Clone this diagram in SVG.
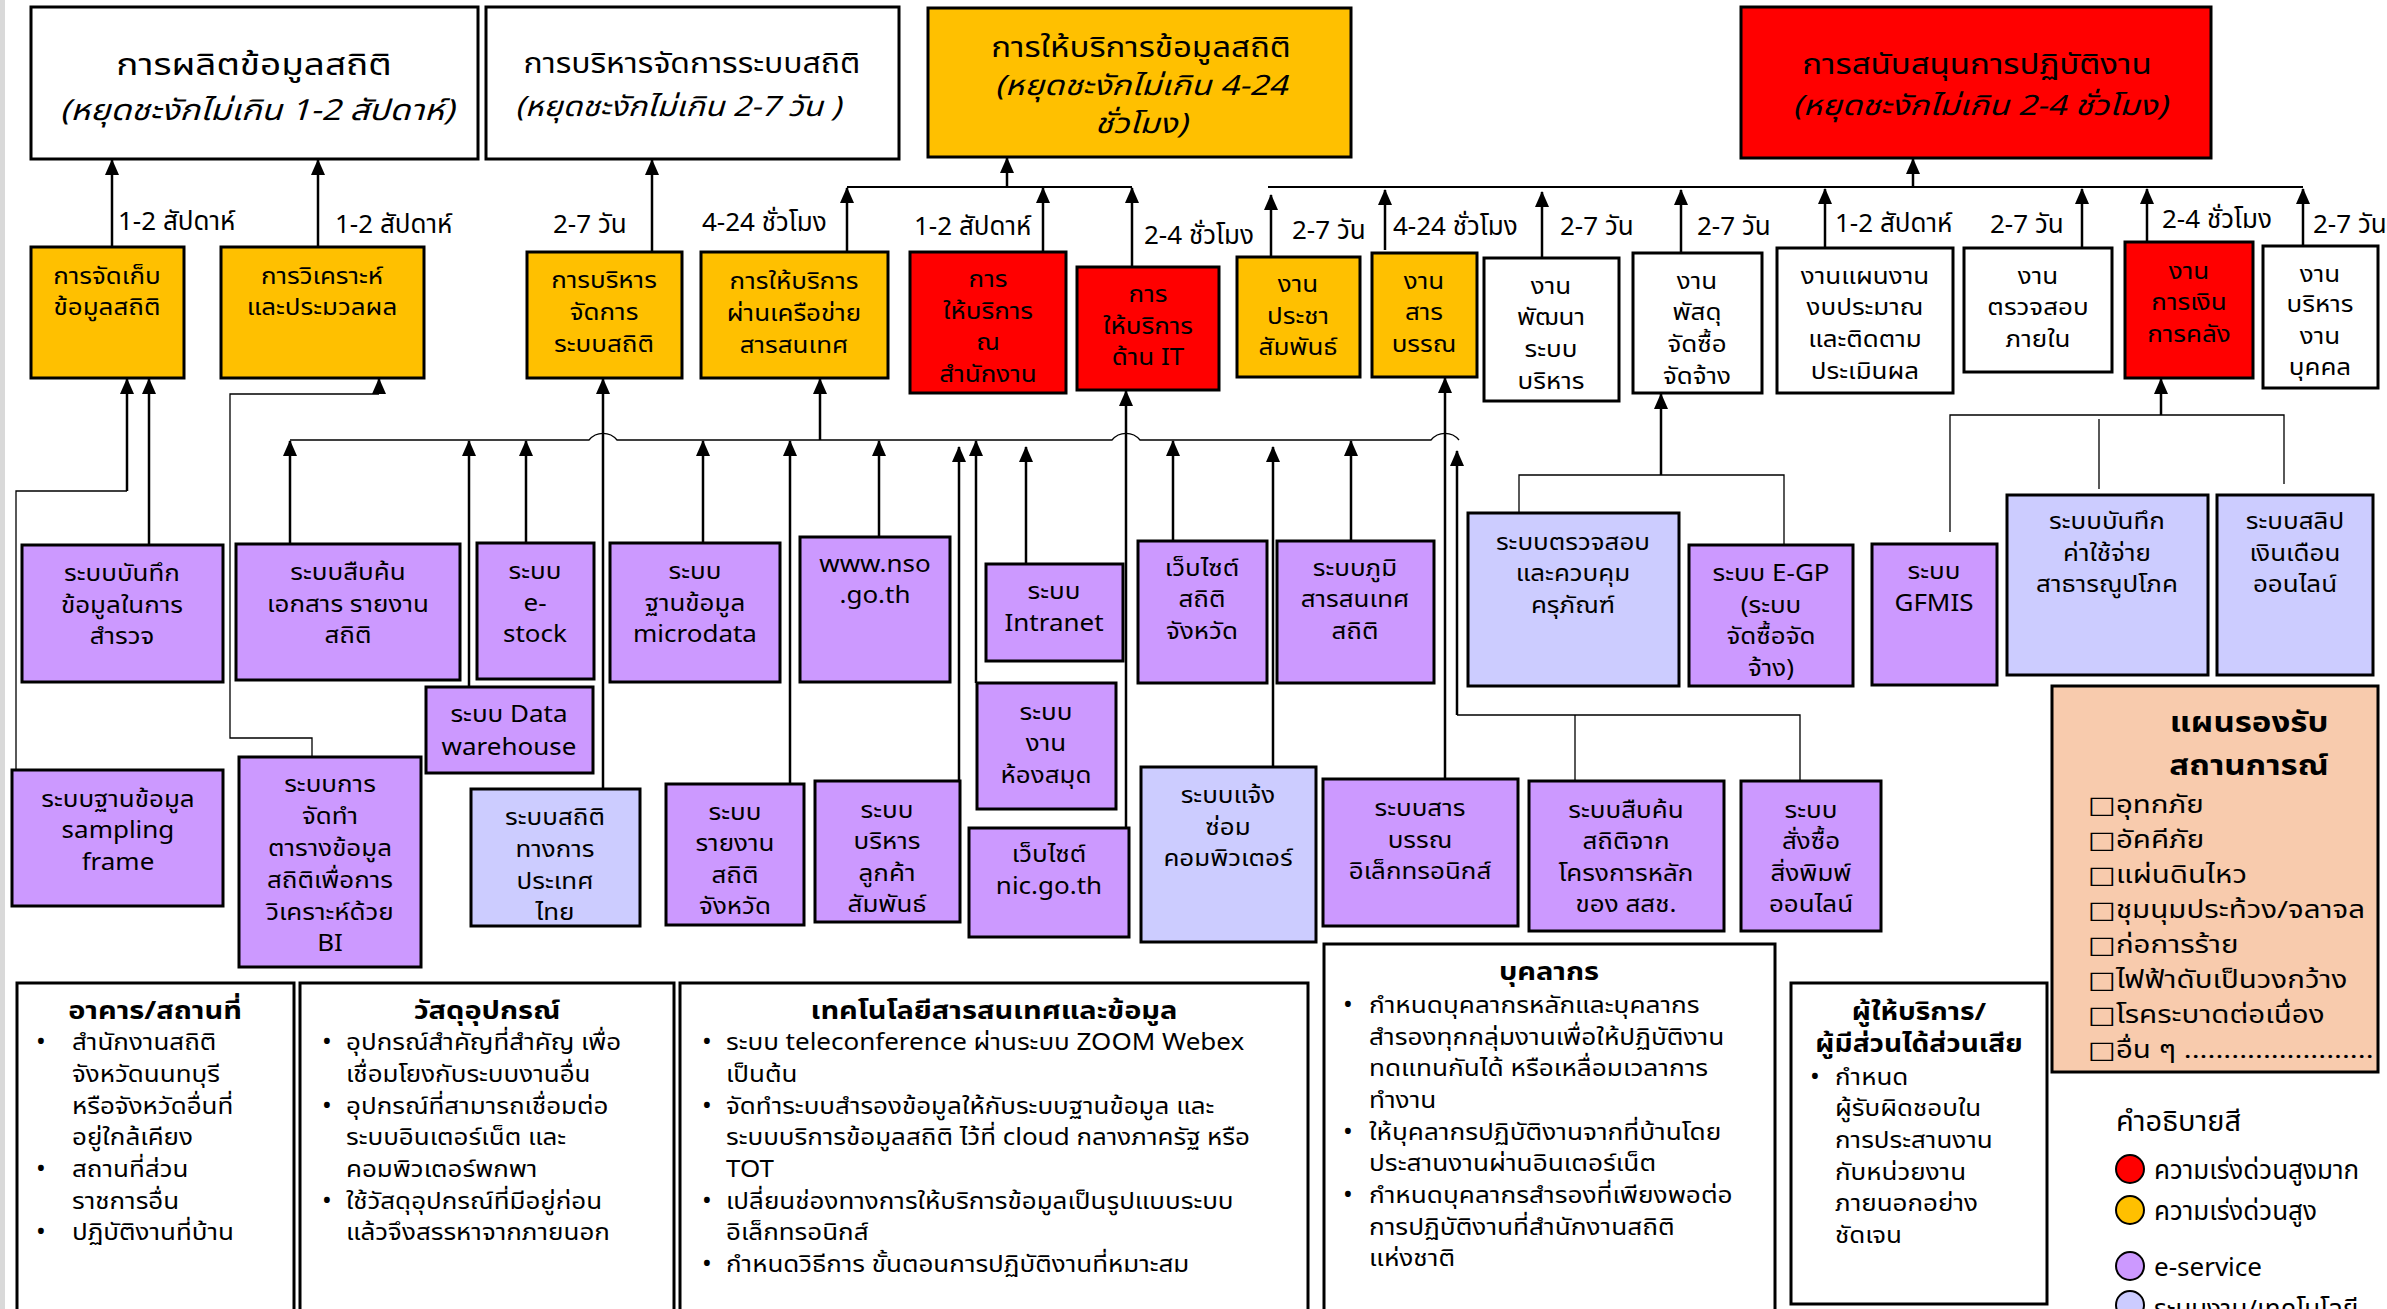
<svg xmlns="http://www.w3.org/2000/svg" width="2387" height="1309" viewBox="0 0 2387 1309">
<defs>
<marker id="ah" markerUnits="userSpaceOnUse" markerWidth="16" markerHeight="16" viewBox="0 0 16 16" refX="15" refY="8" orient="auto"><path d="M0,1 L16,8 L0,15 z" fill="#000"/></marker>
<style>
text{font-family:Tahoma,"Noto Sans Thai","Noto Sans","DejaVu Sans",sans-serif;fill:#000}
.bx{stroke:#000;stroke-width:3}
.o{fill:#FFC000}.r{fill:#FF0000}.p{fill:#CC99FF}.lb{fill:#CCCCFF}.w{fill:#fff}.pe{fill:#F8CBAD}
.t{font-size:23px;text-anchor:middle}
.l{font-size:26px}
.h{text-anchor:middle}
.it{font-style:italic}
.bd{font-weight:bold}
.c{stroke:#000;stroke-width:2;fill:none}
.ca{stroke:#000;stroke-width:2.5;fill:none;marker-end:url(#ah)}
.ct{stroke:#000;stroke-width:1.3;fill:none}
.bt{font-size:23px}
.bu{font-size:26px}
.lc{stroke:#000;stroke-width:2}
</style>
</defs>
<rect x="0" y="0" width="2387" height="1309" fill="#fff"/>
<rect x="0" y="0" width="5" height="1309" fill="#d9d9d9"/>

<g id="connectors">
<path class="ca" d="M112,247 V160"/>
<path class="ca" d="M318,247 V160"/>
<path class="ca" d="M652,252 V160"/>
<path class="ct" d="M16,770 V491 H127"/>
<path class="ca" d="M127,491 V379"/>
<path class="ca" d="M149,545 V379"/>
<path class="ct" d="M312,757 V738 H230 V394 H379"/>
<path class="ca" d="M379,394 V379"/>
<path class="ca" d="M603,789 V379"/>
<path class="c" d="M847,187 H1132"/>
<path class="ca" d="M847,252 V188"/>
<path class="ca" d="M1043,252 V188"/>
<path class="ca" d="M1132,267 V188"/>
<path class="ca" d="M1007,187 V158"/>
<path class="ct" d="M290,440 H589 A18,18 0 0 1 617,440 H1112 A18,18 0 0 1 1140,440 H1431 A18,18 0 0 1 1459,440"/>
<path class="ca" d="M820,440 V379"/>
<path class="ca" d="M290,544 V441"/>
<path class="ca" d="M469,687 V441"/>
<path class="ca" d="M526,543 V441"/>
<path class="ca" d="M703,543 V441"/>
<path class="ca" d="M790,784 V441"/>
<path class="ca" d="M879,537 V441"/>
<path class="ca" d="M959,781 V447"/>
<path class="ca" d="M976,683 V441"/>
<path class="ca" d="M1026,564 V447"/>
<path class="ca" d="M1173,541 V441"/>
<path class="ca" d="M1273,767 V447"/>
<path class="ca" d="M1351,541 V441"/>
<path class="ca" d="M1457,715 V451"/>
<path class="ca" d="M1126,828 V391"/>
<path class="ca" d="M1445,779 V378"/>
<path class="ct" d="M1457,715 H1800 V781 M1575,715 V781"/>
<path class="ct" d="M1519,513 V475 H1784 V545"/>
<path class="ca" d="M1661,475 V394"/>
<path class="ct" d="M1950,532 V415 H2284 V484 M2099,419 V489"/>
<path class="ca" d="M2161,415 V379"/>
<path class="c" d="M1268,187 H2303"/>
<path class="ca" d="M1913,187 V159"/>
<path class="ca" d="M1271,257 V195"/>
<path class="ca" d="M1385,250 V190"/>
<path class="ca" d="M1542,258 V192"/>
<path class="ca" d="M1681,253 V190"/>
<path class="ca" d="M1825,248 V189"/>
<path class="ca" d="M2082,248 V189"/>
<path class="ca" d="M2147,243 V189"/>
<path class="ca" d="M2303,246 V189"/>
</g>

<g id="labels" class="l">
<text x="118" y="230">1-2 สัปดาห์</text>
<text x="335" y="233">1-2 สัปดาห์</text>
<text x="553" y="233">2-7 วัน</text>
<text x="702" y="231">4-24 ชั่วโมง</text>
<text x="914" y="235">1-2 สัปดาห์</text>
<text x="1144" y="244">2-4 ชั่วโมง</text>
<text x="1292" y="239">2-7 วัน</text>
<text x="1393" y="235">4-24 ชั่วโมง</text>
<text x="1560" y="235">2-7 วัน</text>
<text x="1697" y="235">2-7 วัน</text>
<text x="1835" y="232">1-2 สัปดาห์</text>
<text x="1990" y="233">2-7 วัน</text>
<text x="2162" y="228">2-4 ชั่วโมง</text>
<text x="2313" y="233">2-7 วัน</text>
</g>

<g id="n-produce"><rect class="bx w" x="31" y="7" width="447" height="152"/>
<text class="h" x="254" y="75" font-size="31" transform="translate(254 0) scale(1.19 1) translate(-254 0)">การผลิตข้อมูลสถิติ</text>
<text class="h it" x="257" y="120" font-size="29" transform="translate(257 0) scale(1.17 1) translate(-257 0)">(หยุดชะงักไม่เกิน 1-2 สัปดาห์)</text></g>
<g id="n-manage"><rect class="bx w" x="486" y="7" width="413" height="152"/>
<text class="h" x="692" y="73" font-size="28" transform="translate(692 0) scale(1.14 1) translate(-692 0)">การบริหารจัดการระบบสถิติ</text>
<text class="h it" x="678" y="116" font-size="28" transform="translate(678 0) scale(1.14 1) translate(-678 0)">(หยุดชะงักไม่เกิน 2-7 วัน )</text></g>
<g id="n-service"><rect class="bx o" x="928" y="8" width="423" height="149"/>
<g transform="translate(1141 0) scale(1.18 1) translate(-1141 0)">
<text class="h" x="1141" y="57" font-size="28">การให้บริการข้อมูลสถิติ</text>
<text class="h it" font-size="28"><tspan x="1141" y="95">(หยุดชะงักไม่เกิน 4-24</tspan><tspan x="1141" y="133">ชั่วโมง)</tspan></text></g></g>
<g id="n-support"><rect class="bx r" x="1741" y="7" width="470" height="151"/>
<text class="h" x="1977" y="74" font-size="28" transform="translate(1977 0) scale(1.18 1) translate(-1977 0)">การสนับสนุนการปฏิบัติงาน</text>
<text class="h it" x="1980" y="115" font-size="28" transform="translate(1980 0) scale(1.18 1) translate(-1980 0)">(หยุดชะงักไม่เกิน 2-4 ชั่วโมง)</text></g>

<g id="n-collect"><rect class="bx o" x="31" y="247" width="153" height="131"/>
<text class="t" transform="translate(107 0) scale(1.13 1) translate(-107 0)"><tspan x="107" y="284">การจัดเก็บ</tspan><tspan x="107" y="315">ข้อมูลสถิติ</tspan></text></g>
<g id="n-analyze"><rect class="bx o" x="221" y="247" width="203" height="131"/>
<text class="t" transform="translate(322 0) scale(1.13 1) translate(-322 0)"><tspan x="322" y="284">การวิเคราะห์</tspan><tspan x="322" y="315">และประมวลผล</tspan></text></g>
<g id="n-sysmgmt"><rect class="bx o" x="527" y="252" width="155" height="126"/>
<text class="t" transform="translate(604 0) scale(1.13 1) translate(-604 0)"><tspan x="604" y="288">การบริหาร</tspan><tspan x="604" y="320">จัดการ</tspan><tspan x="604" y="352">ระบบสถิติ</tspan></text></g>
<g id="n-network"><rect class="bx o" x="701" y="252" width="187" height="126"/>
<text class="t" transform="translate(794 0) scale(1.13 1) translate(-794 0)"><tspan x="794" y="289">การให้บริการ</tspan><tspan x="794" y="321">ผ่านเครือข่าย</tspan><tspan x="794" y="353">สารสนเทศ</tspan></text></g>
<g id="n-office"><rect class="bx r" x="910" y="252" width="156" height="141"/>
<text class="t" transform="translate(988 0) scale(1.13 1) translate(-988 0)"><tspan x="988" y="287">การ</tspan><tspan x="988" y="319">ให้บริการ</tspan><tspan x="988" y="350">ณ</tspan><tspan x="988" y="382">สำนักงาน</tspan></text></g>
<g id="n-it"><rect class="bx r" x="1077" y="267" width="142" height="123"/>
<text class="t" transform="translate(1148 0) scale(1.13 1) translate(-1148 0)"><tspan x="1148" y="302">การ</tspan><tspan x="1148" y="334">ให้บริการ</tspan><tspan x="1148" y="365">ด้าน IT</tspan></text></g>
<g id="n-pr"><rect class="bx o" x="1237" y="257" width="123" height="120"/>
<text class="t" transform="translate(1298 0) scale(1.13 1) translate(-1298 0)"><tspan x="1298" y="292">งาน</tspan><tspan x="1298" y="324">ประชา</tspan><tspan x="1298" y="355">สัมพันธ์</tspan></text></g>
<g id="n-saraban"><rect class="bx o" x="1372" y="253" width="105" height="124"/>
<text class="t" transform="translate(1424 0) scale(1.13 1) translate(-1424 0)"><tspan x="1424" y="289">งาน</tspan><tspan x="1424" y="320">สาร</tspan><tspan x="1424" y="352">บรรณ</tspan></text></g>
<g id="n-dev"><rect class="bx w" x="1484" y="258" width="135" height="143"/>
<text class="t" transform="translate(1551 0) scale(1.13 1) translate(-1551 0)"><tspan x="1551" y="294">งาน</tspan><tspan x="1551" y="325">พัฒนา</tspan><tspan x="1551" y="357">ระบบ</tspan><tspan x="1551" y="389">บริหาร</tspan></text></g>
<g id="n-supply"><rect class="bx w" x="1633" y="253" width="129" height="140"/>
<text class="t" transform="translate(1697 0) scale(1.13 1) translate(-1697 0)"><tspan x="1697" y="289">งาน</tspan><tspan x="1697" y="320">พัสดุ</tspan><tspan x="1697" y="352">จัดซื้อ</tspan><tspan x="1697" y="384">จัดจ้าง</tspan></text></g>
<g id="n-plan"><rect class="bx w" x="1777" y="248" width="176" height="145"/>
<text class="t" transform="translate(1865 0) scale(1.13 1) translate(-1865 0)"><tspan x="1865" y="284">งานแผนงาน</tspan><tspan x="1865" y="315">งบประมาณ</tspan><tspan x="1865" y="347">และติดตาม</tspan><tspan x="1865" y="379">ประเมินผล</tspan></text></g>
<g id="n-audit"><rect class="bx w" x="1964" y="248" width="148" height="124"/>
<text class="t" transform="translate(2038 0) scale(1.13 1) translate(-2038 0)"><tspan x="2038" y="284">งาน</tspan><tspan x="2038" y="315">ตรวจสอบ</tspan><tspan x="2038" y="347">ภายใน</tspan></text></g>
<g id="n-finance"><rect class="bx r" x="2125" y="242" width="128" height="136"/>
<text class="t" transform="translate(2189 0) scale(1.13 1) translate(-2189 0)"><tspan x="2189" y="279">งาน</tspan><tspan x="2189" y="310">การเงิน</tspan><tspan x="2189" y="342">การคลัง</tspan></text></g>
<g id="n-hr"><rect class="bx w" x="2263" y="246" width="115" height="142"/>
<text class="t" transform="translate(2320 0) scale(1.13 1) translate(-2320 0)"><tspan x="2320" y="282">งาน</tspan><tspan x="2320" y="312">บริหาร</tspan><tspan x="2320" y="344">งาน</tspan><tspan x="2320" y="375">บุคคล</tspan></text></g>

<g id="s-survey"><rect class="bx p" x="22" y="545" width="201" height="137"/>
<text class="t" transform="translate(122 0) scale(1.13 1) translate(-122 0)"><tspan x="122" y="581">ระบบบันทึก</tspan><tspan x="122" y="613">ข้อมูลในการ</tspan><tspan x="122" y="644">สำรวจ</tspan></text></g>
<g id="s-search"><rect class="bx p" x="236" y="544" width="224" height="136"/>
<text class="t" transform="translate(348 0) scale(1.13 1) translate(-348 0)"><tspan x="348" y="580">ระบบสืบค้น</tspan><tspan x="348" y="612">เอกสาร รายงาน</tspan><tspan x="348" y="643">สถิติ</tspan></text></g>
<g id="s-estock"><rect class="bx p" x="477" y="543" width="117" height="136"/>
<text class="t" transform="translate(535 0) scale(1.13 1) translate(-535 0)"><tspan x="535" y="579">ระบบ</tspan><tspan x="535" y="611">e-</tspan><tspan x="535" y="642">stock</tspan></text></g>
<g id="s-dw"><rect class="bx p" x="426" y="687" width="167" height="86"/>
<text class="t" transform="translate(509 0) scale(1.13 1) translate(-509 0)"><tspan x="509" y="722">ระบบ Data</tspan><tspan x="509" y="755">warehouse</tspan></text></g>
<g id="s-sampling"><rect class="bx p" x="12" y="770" width="211" height="136"/>
<text class="t" transform="translate(118 0) scale(1.13 1) translate(-118 0)"><tspan x="118" y="807">ระบบฐานข้อมูล</tspan><tspan x="118" y="838">sampling</tspan><tspan x="118" y="870">frame</tspan></text></g>
<g id="s-bi"><rect class="bx p" x="239" y="757" width="182" height="210"/>
<text class="t" transform="translate(330 0) scale(1.13 1) translate(-330 0)"><tspan x="330" y="792">ระบบการ</tspan><tspan x="330" y="824">จัดทำ</tspan><tspan x="330" y="856">ตารางข้อมูล</tspan><tspan x="330" y="888">สถิติเพื่อการ</tspan><tspan x="330" y="920">วิเคราะห์ด้วย</tspan><tspan x="330" y="951">BI</tspan></text></g>
<g id="s-tsi"><rect class="bx lb" x="471" y="789" width="169" height="137"/>
<text class="t" transform="translate(555 0) scale(1.13 1) translate(-555 0)"><tspan x="555" y="825">ระบบสถิติ</tspan><tspan x="555" y="857">ทางการ</tspan><tspan x="555" y="889">ประเทศ</tspan><tspan x="555" y="920">ไทย</tspan></text></g>
<g id="s-micro"><rect class="bx p" x="610" y="543" width="170" height="139"/>
<text class="t" transform="translate(695 0) scale(1.13 1) translate(-695 0)"><tspan x="695" y="579">ระบบ</tspan><tspan x="695" y="611">ฐานข้อมูล</tspan><tspan x="695" y="642">microdata</tspan></text></g>
<g id="s-report"><rect class="bx p" x="666" y="784" width="138" height="141"/>
<text class="t" transform="translate(735 0) scale(1.13 1) translate(-735 0)"><tspan x="735" y="820">ระบบ</tspan><tspan x="735" y="851">รายงาน</tspan><tspan x="735" y="883">สถิติ</tspan><tspan x="735" y="914">จังหวัด</tspan></text></g>
<g id="s-nso"><rect class="bx p" x="800" y="537" width="150" height="145"/>
<text class="t" transform="translate(875 0) scale(1.13 1) translate(-875 0)"><tspan x="875" y="572">www.nso</tspan><tspan x="875" y="603">.go.th</tspan></text></g>
<g id="s-crm"><rect class="bx p" x="815" y="781" width="145" height="141"/>
<text class="t" transform="translate(887 0) scale(1.13 1) translate(-887 0)"><tspan x="887" y="818">ระบบ</tspan><tspan x="887" y="849">บริหาร</tspan><tspan x="887" y="881">ลูกค้า</tspan><tspan x="887" y="912">สัมพันธ์</tspan></text></g>
<g id="s-intranet"><rect class="bx p" x="986" y="564" width="137" height="97"/>
<text class="t" transform="translate(1054 0) scale(1.13 1) translate(-1054 0)"><tspan x="1054" y="599">ระบบ</tspan><tspan x="1054" y="631">Intranet</tspan></text></g>
<g id="s-library"><rect class="bx p" x="977" y="683" width="139" height="126"/>
<text class="t" transform="translate(1046 0) scale(1.13 1) translate(-1046 0)"><tspan x="1046" y="720">ระบบ</tspan><tspan x="1046" y="751">งาน</tspan><tspan x="1046" y="783">ห้องสมุด</tspan></text></g>
<g id="s-nic"><rect class="bx p" x="969" y="828" width="160" height="109"/>
<text class="t" transform="translate(1049 0) scale(1.13 1) translate(-1049 0)"><tspan x="1049" y="862">เว็บไซต์</tspan><tspan x="1049" y="894">nic.go.th</tspan></text></g>
<g id="s-provweb"><rect class="bx p" x="1138" y="541" width="129" height="142"/>
<text class="t" transform="translate(1202 0) scale(1.13 1) translate(-1202 0)"><tspan x="1202" y="576">เว็บไซต์</tspan><tspan x="1202" y="607">สถิติ</tspan><tspan x="1202" y="639">จังหวัด</tspan></text></g>
<g id="s-repair"><rect class="bx lb" x="1141" y="767" width="175" height="175"/>
<text class="t" transform="translate(1228 0) scale(1.13 1) translate(-1228 0)"><tspan x="1228" y="803">ระบบแจ้ง</tspan><tspan x="1228" y="835">ซ่อม</tspan><tspan x="1228" y="866">คอมพิวเตอร์</tspan></text></g>
<g id="s-gis"><rect class="bx p" x="1277" y="541" width="157" height="142"/>
<text class="t" transform="translate(1355 0) scale(1.13 1) translate(-1355 0)"><tspan x="1355" y="576">ระบบภูมิ</tspan><tspan x="1355" y="607">สารสนเทศ</tspan><tspan x="1355" y="639">สถิติ</tspan></text></g>
<g id="s-edoc"><rect class="bx p" x="1323" y="779" width="195" height="147"/>
<text class="t" transform="translate(1420 0) scale(1.13 1) translate(-1420 0)"><tspan x="1420" y="816">ระบบสาร</tspan><tspan x="1420" y="848">บรรณ</tspan><tspan x="1420" y="879">อิเล็กทรอนิกส์</tspan></text></g>
<g id="s-project"><rect class="bx p" x="1529" y="781" width="195" height="150"/>
<text class="t" transform="translate(1626 0) scale(1.13 1) translate(-1626 0)"><tspan x="1626" y="818">ระบบสืบค้น</tspan><tspan x="1626" y="849">สถิติจาก</tspan><tspan x="1626" y="881">โครงการหลัก</tspan><tspan x="1626" y="912">ของ สสช.</tspan></text></g>
<g id="s-order"><rect class="bx p" x="1741" y="781" width="140" height="150"/>
<text class="t" transform="translate(1811 0) scale(1.13 1) translate(-1811 0)"><tspan x="1811" y="818">ระบบ</tspan><tspan x="1811" y="849">สั่งซื้อ</tspan><tspan x="1811" y="881">สิ่งพิมพ์</tspan><tspan x="1811" y="912">ออนไลน์</tspan></text></g>
<g id="s-asset"><rect class="bx lb" x="1468" y="513" width="211" height="173"/>
<text class="t" transform="translate(1573 0) scale(1.13 1) translate(-1573 0)"><tspan x="1573" y="550">ระบบตรวจสอบ</tspan><tspan x="1573" y="581">และควบคุม</tspan><tspan x="1573" y="613">ครุภัณฑ์</tspan></text></g>
<g id="s-egp"><rect class="bx p" x="1689" y="545" width="164" height="141"/>
<text class="t" transform="translate(1771 0) scale(1.13 1) translate(-1771 0)"><tspan x="1771" y="581">ระบบ E-GP</tspan><tspan x="1771" y="613">(ระบบ</tspan><tspan x="1771" y="644">จัดซื้อจัด</tspan><tspan x="1771" y="676">จ้าง)</tspan></text></g>
<g id="s-gfmis"><rect class="bx p" x="1872" y="544" width="125" height="141"/>
<text class="t" transform="translate(1934 0) scale(1.13 1) translate(-1934 0)"><tspan x="1934" y="579">ระบบ</tspan><tspan x="1934" y="611">GFMIS</tspan></text></g>
<g id="s-utility"><rect class="bx lb" x="2007" y="495" width="201" height="180"/>
<text class="t" transform="translate(2107 0) scale(1.13 1) translate(-2107 0)"><tspan x="2107" y="529">ระบบบันทึก</tspan><tspan x="2107" y="561">ค่าใช้จ่าย</tspan><tspan x="2107" y="592">สาธารณูปโภค</tspan></text></g>
<g id="s-payslip"><rect class="bx lb" x="2217" y="495" width="156" height="180"/>
<text class="t" transform="translate(2295 0) scale(1.13 1) translate(-2295 0)"><tspan x="2295" y="529">ระบบสลิป</tspan><tspan x="2295" y="561">เงินเดือน</tspan><tspan x="2295" y="592">ออนไลน์</tspan></text></g>

<g id="plan"><rect class="bx pe" x="2052" y="686" width="326" height="386"/>
<text class="h bd" font-size="28" transform="translate(2249 0) scale(1.18 1) translate(-2249 0)"><tspan x="2249" y="732">แผนรองรับ</tspan><tspan x="2249" y="775">สถานการณ์</tspan></text>
<text font-size="24" transform="translate(2088 0) scale(1.23 1) translate(-2088 0)"><tspan x="2088" y="813">□อุทกภัย</tspan><tspan x="2088" y="848">□อัคคีภัย</tspan><tspan x="2088" y="883">□แผ่นดินไหว</tspan><tspan x="2088" y="918">□ชุมนุมประท้วง/จลาจล</tspan><tspan x="2088" y="953">□ก่อการร้าย</tspan><tspan x="2088" y="988">□ไฟฟ้าดับเป็นวงกว้าง</tspan><tspan x="2088" y="1023">□โรคระบาดต่อเนื่อง</tspan><tspan x="2088" y="1058">□อื่น ๆ ........................</tspan></text>
</g>

<g id="b-building"><rect class="bx w" x="17" y="983" width="277" height="340"/>
<text class="h bd" x="155" y="1019" font-size="25" transform="translate(155 0) scale(1.16 1) translate(-155 0)">อาคาร/สถานที่</text>
<text class="bu"><tspan x="36" y="1050">•</tspan><tspan x="36" y="1177">•</tspan><tspan x="36" y="1240">•</tspan></text>
<text class="bt" transform="translate(72 0) scale(1.13 1) translate(-72 0)"><tspan x="72" y="1050">สำนักงานสถิติ</tspan><tspan x="72" y="1082">จังหวัดนนทบุรี</tspan><tspan x="72" y="1114">หรือจังหวัดอื่นที่</tspan><tspan x="72" y="1145">อยู่ใกล้เคียง</tspan><tspan x="72" y="1177">สถานที่ส่วน</tspan><tspan x="72" y="1209">ราชการอื่น</tspan><tspan x="72" y="1240">ปฏิบัติงานที่บ้าน</tspan></text>
</g>
<g id="b-equipment"><rect class="bx w" x="300" y="983" width="374" height="340"/>
<text class="h bd" x="487" y="1019" font-size="25" transform="translate(487 0) scale(1.16 1) translate(-487 0)">วัสดุอุปกรณ์</text>
<text class="bu"><tspan x="322" y="1050">•</tspan><tspan x="322" y="1114">•</tspan><tspan x="322" y="1209">•</tspan></text>
<text class="bt" transform="translate(346 0) scale(1.13 1) translate(-346 0)"><tspan x="346" y="1050">อุปกรณ์สำคัญที่สำคัญ เพื่อ</tspan><tspan x="346" y="1082">เชื่อมโยงกับระบบงานอื่น</tspan><tspan x="346" y="1114">อุปกรณ์ที่สามารถเชื่อมต่อ</tspan><tspan x="346" y="1145">ระบบอินเตอร์เน็ต และ</tspan><tspan x="346" y="1177">คอมพิวเตอร์พกพา</tspan><tspan x="346" y="1209">ใช้วัสดุอุปกรณ์ที่มีอยู่ก่อน</tspan><tspan x="346" y="1240">แล้วจึงสรรหาจากภายนอก</tspan></text>
</g>
<g id="b-it"><rect class="bx w" x="680" y="983" width="628" height="340"/>
<text class="h bd" x="994" y="1019" font-size="25" transform="translate(994 0) scale(1.16 1) translate(-994 0)">เทคโนโลยีสารสนเทศและข้อมูล</text>
<text class="bu"><tspan x="702" y="1050">•</tspan><tspan x="702" y="1114">•</tspan><tspan x="702" y="1209">•</tspan><tspan x="702" y="1272">•</tspan></text>
<text class="bt" transform="translate(726 0) scale(1.13 1) translate(-726 0)"><tspan x="726" y="1050">ระบบ teleconference ผ่านระบบ ZOOM Webex</tspan><tspan x="726" y="1082">เป็นต้น</tspan><tspan x="726" y="1114">จัดทำระบบสำรองข้อมูลให้กับระบบฐานข้อมูล และ</tspan><tspan x="726" y="1145">ระบบบริการข้อมูลสถิติ ไว้ที่ cloud กลางภาครัฐ หรือ</tspan><tspan x="726" y="1177">TOT</tspan><tspan x="726" y="1209">เปลี่ยนช่องทางการให้บริการข้อมูลเป็นรูปแบบระบบ</tspan><tspan x="726" y="1240">อิเล็กทรอนิกส์</tspan><tspan x="726" y="1272">กำหนดวิธีการ ขั้นตอนการปฏิบัติงานที่หมาะสม</tspan></text>
</g>
<g id="b-staff"><rect class="bx w" x="1324" y="944" width="451" height="380"/>
<text class="h bd" x="1549" y="980" font-size="25" transform="translate(1549 0) scale(1.16 1) translate(-1549 0)">บุคลากร</text>
<text class="bu"><tspan x="1343" y="1013">•</tspan><tspan x="1343" y="1140">•</tspan><tspan x="1343" y="1203">•</tspan></text>
<text class="bt" transform="translate(1369 0) scale(1.14 1) translate(-1369 0)"><tspan x="1369" y="1013">กำหนดบุคลากรหลักและบุคลากร</tspan><tspan x="1369" y="1045">สำรองทุกกลุ่มงานเพื่อให้ปฏิบัติงาน</tspan><tspan x="1369" y="1076">ทดแทนกันได้ หรือเหลื่อมเวลาการ</tspan><tspan x="1369" y="1108">ทำงาน</tspan><tspan x="1369" y="1140">ให้บุคลากรปฏิบัติงานจากที่บ้านโดย</tspan><tspan x="1369" y="1171">ประสานงานผ่านอินเตอร์เน็ต</tspan><tspan x="1369" y="1203">กำหนดบุคลากรสำรองที่เพียงพอต่อ</tspan><tspan x="1369" y="1235">การปฏิบัติงานที่สำนักงานสถิติ</tspan><tspan x="1369" y="1266">แห่งชาติ</tspan></text>
</g>
<g id="b-stakeholder"><rect class="bx w" x="1791" y="983" width="256" height="321"/>
<text class="h bd" font-size="24" transform="translate(1919 0) scale(1.17 1) translate(-1919 0)"><tspan x="1919" y="1020">ผู้ให้บริการ/</tspan><tspan x="1919" y="1052">ผู้มีส่วนได้ส่วนเสีย</tspan></text>
<text class="bu" x="1810" y="1085">•</text>
<text class="bt" transform="translate(1835 0) scale(1.13 1) translate(-1835 0)"><tspan x="1835" y="1085">กำหนด</tspan><tspan x="1835" y="1116">ผู้รับผิดชอบใน</tspan><tspan x="1835" y="1148">การประสานงาน</tspan><tspan x="1835" y="1180">กับหน่วยงาน</tspan><tspan x="1835" y="1211">ภายนอกอย่าง</tspan><tspan x="1835" y="1243">ชัดเจน</tspan></text>
</g>

<g id="legend">
<text x="2116" y="1131" font-size="29">คำอธิบายสี</text>
<ellipse cx="2130" cy="1169" rx="14" ry="14" class="r lc"/>
<ellipse cx="2130" cy="1210" rx="14" ry="14" class="o lc"/>
<ellipse cx="2130" cy="1266" rx="14" ry="14" class="p lc"/>
<ellipse cx="2130" cy="1305" rx="14" ry="14" class="lb lc"/>
<text font-size="26"><tspan x="2154" y="1179">ความเร่งด่วนสูงมาก</tspan><tspan x="2154" y="1220">ความเร่งด่วนสูง</tspan><tspan x="2154" y="1276">e-service</tspan><tspan x="2154" y="1318">ระบบงาน/เทคโนโลยี</tspan></text>
</g>
</svg>
